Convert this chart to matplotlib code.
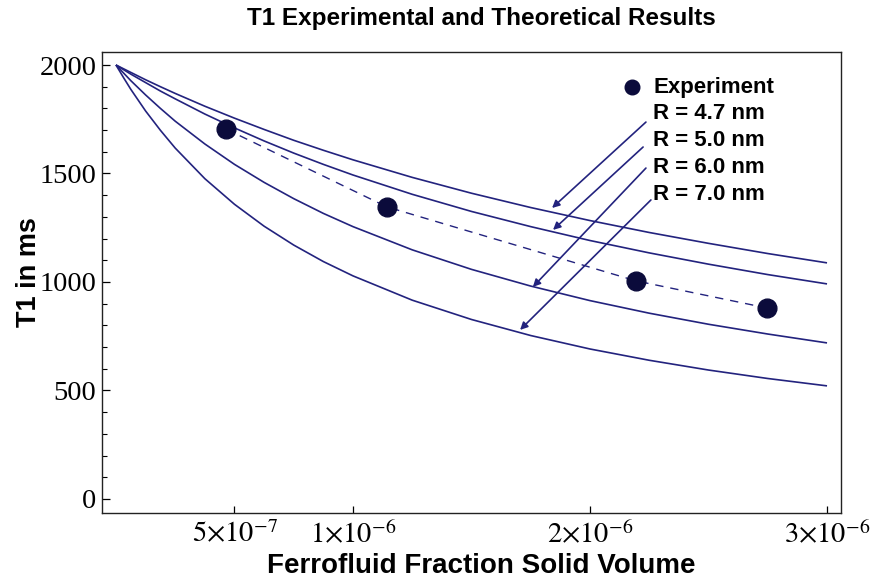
import matplotlib
matplotlib.use("Agg")
import matplotlib.pyplot as plt
from matplotlib.ticker import FixedLocator, MultipleLocator

# Volume fraction grid (units of 1e-6) and theoretical T1 curves (ms)
frac = [0, 0.03125, 0.0625, 0.125, 0.1875, 0.25, 0.375, 0.5, 0.625, 0.75, 0.875,
        1.0, 1.25, 1.5, 1.75, 2.0, 2.25, 2.5, 2.75, 3.0]
t1_r47 = [2000, 1983, 1966, 1932, 1900, 1869, 1810, 1755, 1703, 1653, 1607,
          1563, 1482, 1409, 1343, 1283, 1228, 1178, 1131, 1088]
t1_r50 = [2000, 1979, 1958, 1919, 1880, 1844, 1774, 1710, 1650, 1594, 1542,
          1493, 1404, 1325, 1255, 1191, 1134, 1082, 1034, 991]
t1_r60 = [2000, 1964, 1928, 1862, 1800, 1741, 1636, 1542, 1459, 1384, 1316,
          1255, 1148, 1058, 981, 914, 856, 805, 760, 719]
t1_r70 = [2000, 1943, 1888, 1788, 1699, 1617, 1476, 1358, 1257, 1170, 1094,
          1028, 916, 827, 753, 691, 639, 594, 555, 521]

# Measured points
exp_frac = [0.464, 1.143, 2.194, 2.747]
exp_t1 = [1705, 1346, 1005, 880]

curve_labels = ["R = 4.7 nm", "R = 5.0 nm", "R = 6.0 nm", "R = 7.0 nm"]
x_ticks = [0.5, 1.0, 2.0, 3.0]
x_tick_labels = [r"$5{\times}10^{-7}$", r"$1{\times}10^{-6}$", r"$2{\times}10^{-6}$", r"$3{\times}10^{-6}$"]
y_ticks = [0, 500, 1000, 1500, 2000]

line_color = "#23237e"
dot_color = "#0b0b3b"

plt.rcParams["mathtext.fontset"] = "stix"

fig = plt.figure(figsize=(8.73, 5.84), dpi=100)
ax = fig.add_axes([102 / 873, 1 - 513 / 584, 739 / 873, 461 / 584])

xs = [v * 1e-6 for v in frac]
for series in (t1_r47, t1_r50, t1_r60, t1_r70):
    ax.plot(xs, series, color=line_color, lw=1.2, solid_capstyle="butt")

ex = [v * 1e-6 for v in exp_frac]
ax.plot(ex, exp_t1, color=line_color, lw=1.0, dashes=(6, 5))
ax.plot(ex, exp_t1, "o", color=dot_color, ms=13.5, ls="none")

ax.set_xlim(-0.059e-6, 3.059e-6)
ax.set_ylim(-65, 2060)

ax.xaxis.set_major_locator(FixedLocator([v * 1e-6 for v in x_ticks]))
ax.set_xticklabels(x_tick_labels)
ax.yaxis.set_major_locator(FixedLocator(y_ticks))
ax.yaxis.set_minor_locator(MultipleLocator(100))
ax.tick_params(axis="both", which="both", direction="in", top=False, right=False)
ax.tick_params(axis="x", which="major", length=5, width=0.9, pad=6)
ax.tick_params(axis="x", which="minor", length=0)
ax.tick_params(axis="y", which="major", length=6, width=0.9, pad=4)
ax.tick_params(axis="y", which="minor", length=3.5, width=0.8)
for lab in ax.get_xticklabels() + ax.get_yticklabels():
    lab.set_fontfamily("Liberation Serif")
    lab.set_fontsize(20.5)
for sp in ax.spines.values():
    sp.set_linewidth(1.0)
    sp.set_color("#222222")

bold = dict(family="Liberation Sans", weight="bold")
fig.text(481 / 873, 1 - 18 / 584, "T1 Experimental and Theoretical Results",
         ha="center", va="center", fontsize=17.5, **bold)
fig.text(481 / 873, 1 - 566 / 584, "Ferrofluid Fraction Solid Volume",
         ha="center", va="center", fontsize=20, **bold)
fig.text(29 / 873, 1 - 272 / 584, "T1 in ms", ha="center", va="center",
         rotation=90, fontsize=19.5, **bold)

# Key: experiment marker and curve labels with pointers
ax.plot([0.717], [0.924], "o", color=dot_color, ms=10.5, transform=ax.transAxes, clip_on=False)
key_y = [0.924, 0.867, 0.808, 0.749, 0.690]
for txt, yy in zip(["Experiment"] + curve_labels, key_y):
    ax.text(0.746, yy, txt, transform=ax.transAxes, ha="left", va="center",
            fontsize=16, **bold)

arrow_start = [(2.236, 1737), (2.224, 1622), (2.236, 1525), (2.257, 1378)]
arrow_end = [(1.840, 1341), (1.844, 1240), (1.759, 977), (1.705, 779)]
for (sx, sy), (tx, ty) in zip(arrow_start, arrow_end):
    ax.annotate("", xy=(tx * 1e-6, ty), xytext=(sx * 1e-6, sy),
                arrowprops=dict(arrowstyle="-|>", color=line_color, lw=1.2,
                                mutation_scale=11, shrinkA=0, shrinkB=0))

fig.savefig("out.png", dpi=100)
